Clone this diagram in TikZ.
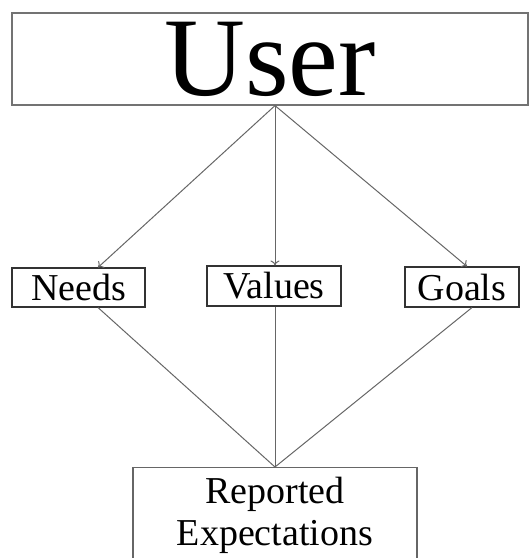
\documentclass[tikz,border=0pt]{standalone}
\usepackage{fontspec}
\setmainfont{Liberation Serif}
\usetikzlibrary{arrows.meta}
\begin{document}
\begin{tikzpicture}[x=1pt,y=-1pt,
  bigbox/.style={draw=black!55, line width=1.2pt, inner sep=0pt, font=\fontsize{112}{112}\selectfont},
  smallbox/.style={draw=black!80, line width=1.1pt, inner sep=0pt, font=\fontsize{38}{42}\selectfont},
  link/.style={draw=black!60, line width=1pt},
  arrowlink/.style={link, -{To[length=5pt,width=9pt]}}]
\path[use as bounding box] (0,0) rectangle (532,558);
\clip (0,0) rectangle (532,558);
\node[bigbox, minimum width=516pt, minimum height=92pt] (user) at (270,59) {User};
\node[smallbox, minimum width=133pt, minimum height=39pt] (needs) at (78.5,287.5) {Needs};
\node[smallbox, minimum width=134pt, minimum height=40pt] (values) at (274,286) {Values};
\node[smallbox, minimum width=114pt, minimum height=40pt] (goals) at (462,287) {Goals};
\node[smallbox, draw=black!60, minimum width=284pt, minimum height=96pt, anchor=north, align=center] (rep) at (275,467) {Reported\\Expectations};
\coordinate (apex) at ([xshift=5pt]user.south);
\draw[arrowlink] (apex) -- ([xshift=19.5pt]needs.north);
\draw[arrowlink] (apex) -- ([xshift=1pt]values.north);
\draw[arrowlink] (apex) -- ([xshift=5pt]goals.north);
\draw[link] ([xshift=19.5pt]needs.south) -- (rep.north);
\draw[link] ([xshift=1pt]values.south) -- (rep.north);
\draw[link] ([xshift=10pt]goals.south) -- (rep.north);
\end{tikzpicture}
\end{document}
